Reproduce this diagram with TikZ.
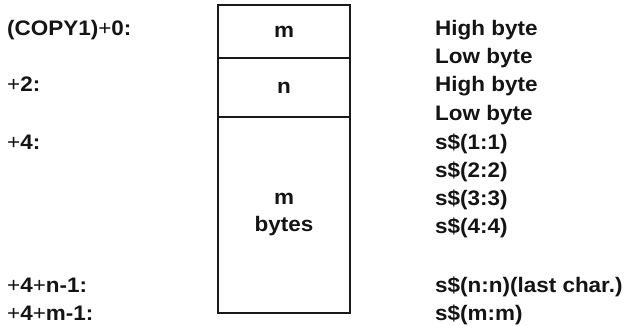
\documentclass[tikz,border=0pt]{standalone}
\usepackage{fontspec}
\setmainfont{Liberation Sans}[FakeStretch=1.07]
\begin{document}
\begin{tikzpicture}[x=1pt,y=-1pt,
  lbl/.style={anchor=base west,inner sep=0pt,font=\fontsize{21}{24}\selectfont\bfseries,text=black!92},
  cell/.style={draw=black!90,line width=1.8pt,minimum width=132pt,inner sep=0pt,
    font=\fontsize{21}{27}\selectfont\bfseries,text=black!92,align=center}]
\useasboundingbox (0,0) rectangle (628,326);
\newcommand{\pl}{\textmd{+}}
% memory cells
\node[cell,minimum height=53pt]  (cm) at (284,31.5) {m};
\node[cell,minimum height=59pt]  (cn) at (284,87.5) {n};
\node[cell,minimum height=196pt] (cs) at (284,215)  {m\\bytes};
% offsets
\node[lbl] (o0) at (7,36)  {(COPY1)\pl0:};
\node[lbl] (o2) at (7,92)  {\pl2:};
\node[lbl] (o4) at (7,149) {\pl4:};
\node[lbl] (on) at (7,292) {\pl4\pl n-1:};
\node[lbl] (om) at (7,320) {\pl4\pl m-1:};
% contents
\node[lbl] (r1) at (435,36)  {High byte};
\node[lbl] (r2) at (435,64)  {Low byte};
\node[lbl] (r3) at (435,92)  {High byte};
\node[lbl] (r4) at (435,120) {Low byte};
\node[lbl] (r5) at (435,149) {s\$(1:1)};
\node[lbl] (r6) at (435,177) {s\$(2:2)};
\node[lbl] (r7) at (435,205) {s\$(3:3)};
\node[lbl] (r8) at (435,233) {s\$(4:4)};
\node[lbl] (r9) at (435,292) {s\$(n:n)(last char.)};
\node[lbl] (r10) at (435,320) {s\$(m:m)};
\end{tikzpicture}
\end{document}
